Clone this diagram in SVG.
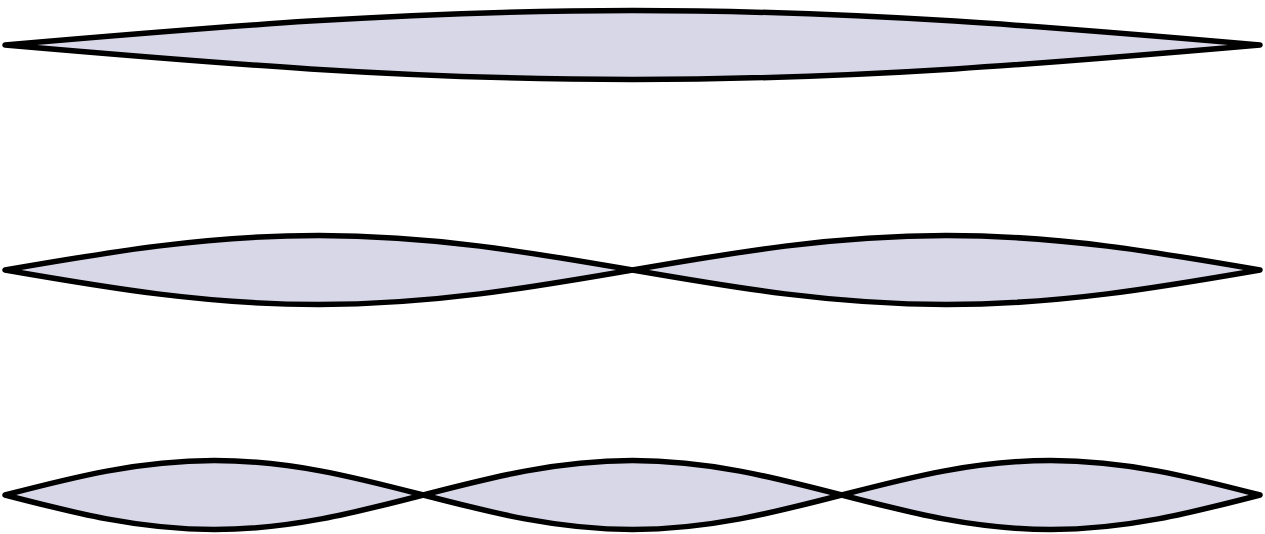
<svg xmlns="http://www.w3.org/2000/svg" width="1265" height="534" viewBox="0 0 1265 534">
<style>
.lens{fill:#d8d7e8;stroke:#000;stroke-width:5.5;stroke-linejoin:round}
</style>
<rect width="1265" height="534" fill="#fff"/>
<g id="mode1">
<path class="lens" d="M5,45 C209.6,27.3 405.4,10.5 632.5,10.5 C859.6,10.5 1055.4,27.3 1260,45 C1055.4,62.7 859.6,79.5 632.5,79.5 C405.4,79.5 209.6,62.7 5,45 Z"/>
</g>
<g id="mode2">
<path class="lens" d="M5,270 C107.3,252.3 205.2,235.5 318.75,235.5 C432.3,235.5 530.2,252.3 632.5,270 C530.2,287.7 432.3,304.5 318.75,304.5 C205.2,304.5 107.3,287.7 5,270 Z"/>
<path class="lens" d="M632.5,270 C734.8,252.3 832.7,235.5 946.25,235.5 C1059.8,235.5 1157.7,252.3 1260,270 C1157.7,287.7 1059.8,304.5 946.25,304.5 C832.7,304.5 734.8,287.7 632.5,270 Z"/>
</g>
<g id="mode3">
<path class="lens" d="M5,495 C73.2,477.3 138.5,460.5 214.2,460.5 C289.8,460.5 355.1,477.3 423.3,495 C355.1,512.7 289.8,529.5 214.2,529.5 C138.5,529.5 73.2,512.7 5,495 Z"/>
<path class="lens" d="M423.3,495 C491.5,477.3 556.8,460.5 632.5,460.5 C708.2,460.5 773.5,477.3 841.7,495 C773.5,512.7 708.2,529.5 632.5,529.5 C556.8,529.5 491.5,512.7 423.3,495 Z"/>
<path class="lens" d="M841.7,495 C909.9,477.3 975.2,460.5 1050.8,460.5 C1126.5,460.5 1191.8,477.3 1260,495 C1191.8,512.7 1126.5,529.5 1050.8,529.5 C975.2,529.5 909.9,512.7 841.7,495 Z"/>
</g>
</svg>
